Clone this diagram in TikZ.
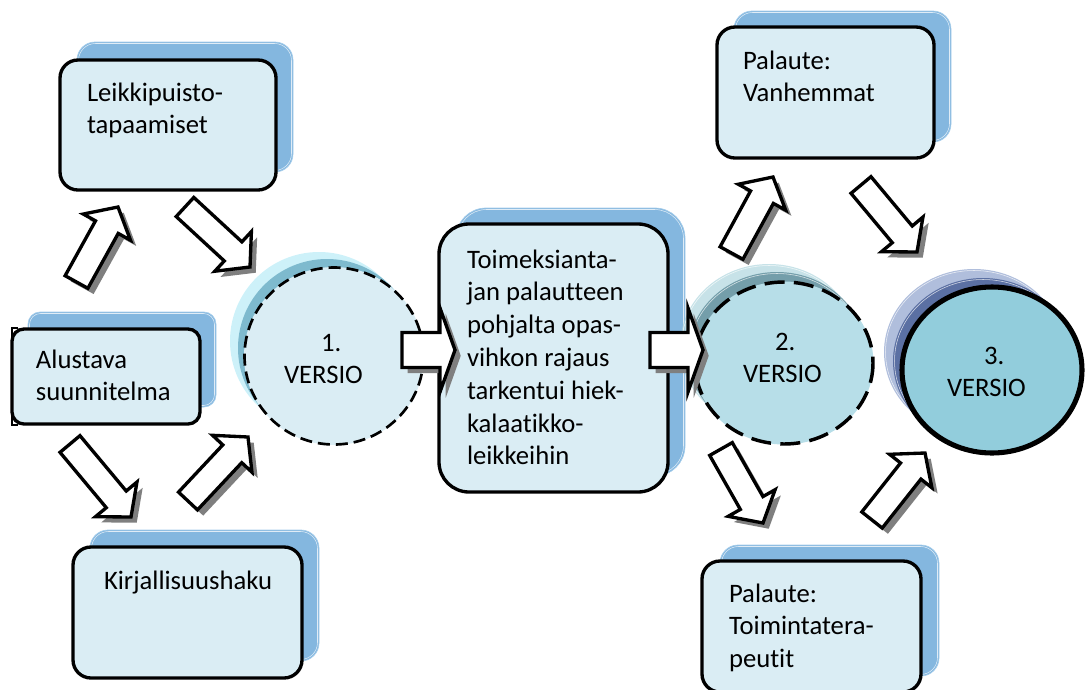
\documentclass[tikz,border=0pt]{standalone}
\usepackage{fontspec}
\setmainfont[Ligatures=NoCommon]{Carlito}
\usetikzlibrary{calc}
\definecolor{backblue}{HTML}{84B7DF}
\definecolor{backedge}{HTML}{A6CDEA}
\definecolor{frontblue}{HTML}{DAEDF4}
\definecolor{aLight}{HTML}{CDF1F9}
\definecolor{aMid}{HTML}{7EBACE}
\definecolor{bFill}{HTML}{B7DEE8}
\definecolor{bLight}{HTML}{A9D3DC}
\definecolor{bMid}{HTML}{5F8E9B}
\definecolor{cFill}{HTML}{92CDDC}
\definecolor{cLight}{HTML}{B0BEDC}
\definecolor{cMid}{HTML}{5B70A3}
\definecolor{arrowshade}{HTML}{7F7F7F}
\tikzset{
  plain/.style={inner sep=0pt,outer sep=0pt},
  label/.style={plain,anchor=north west,align=left,font=\fontsize{20}{24.6}\selectfont,text=black},
  linew/.style={line width=2.5pt},
  sheen/.style={draw=white,draw opacity=.75,line width=.4pt},
}
% name, x1,y1,x2,y2, radius, back plate offset right, back plate offset up (px)
\newcommand\cardbox[8]{%
  \node[plain,rounded corners=#6*.75pt,fill=backblue,draw=backedge,line width=.5pt,
    minimum width={(#4-#2)*.75pt},minimum height={(#5-#3)*.75pt}]
    (#1back) at ({(#2+#4)/2+#7},{(#3+#5)/2-#8}) {};
  \node[plain,rounded corners=(#6-1)*.75pt,sheen,
    minimum width={(#4-#2-3)*.75pt},minimum height={(#5-#3-3)*.75pt}]
    (#1sheen) at ({(#2+#4)/2+#7},{(#3+#5)/2-#8}) {};
  \node[plain,rounded corners=#6*.75pt,fill=frontblue,draw=black,linew,
    minimum width={(#4-#2)*.75pt},minimum height={(#5-#3)*.75pt}]
    (#1) at ({(#2+#4)/2},{(#3+#5)/2}) {};}
% block arrow: tail, tip (named), shaft half width, head half width, head length (px)
\newcommand\blockpath[5]{
  ($(#1)!#3*.75pt!90:(#2)$) --
  ($(#2)!#5*.75pt!(#1)!#3*.75pt!-90:(#1)$) --
  ($(#2)!#5*.75pt!(#1)!#4*.75pt!-90:(#1)$) --
  (#2) --
  ($(#2)!#5*.75pt!(#1)!#4*.75pt!90:(#1)$) --
  ($(#2)!#5*.75pt!(#1)!#3*.75pt!90:(#1)$) --
  ($(#1)!#3*.75pt!-90:(#2)$) -- cycle}
\newcommand\blockarrow[5]{%
  \fill[arrowshade,transform canvas={shift={(4.3pt,-4.3pt)}}] \blockpath{#1}{#2}{#3}{#4}{#5};
  \draw[fill=white,draw=black,linew,miter limit=10] \blockpath{#1}{#2}{#3}{#4}{#5};}
\begin{document}
\begin{tikzpicture}[x=.75pt,y=-.75pt]
\useasboundingbox (0,0) rectangle (1085,689);
\clip (0,0) rectangle (1085,689);
% Version 1
\fill[aLight] (319,341) ellipse [x radius=89,y radius=89];
\fill[aMid] (327,348) ellipse [x radius=89,y radius=89];
\fill[frontblue] (334,356) ellipse [x radius=90,y radius=89];
\draw[black,line width=2pt,dash pattern=on 9pt off 4.5pt] (334,356) ellipse [x radius=89.5,y radius=88.5];
\coordinate (v1) at (334,356);
% Cards
\draw[black,line width=.8pt] (18,328) -- (12,328) -- (12,425) -- (18,425);
\cardbox{leikki}{60}{60}{276}{190}{18}{17}{18}
\cardbox{alustava}{12}{329}{200}{424}{12}{16}{17}
\cardbox{kirja}{73}{547}{302}{678}{18}{17}{17}
\cardbox{toim}{439}{224}{668}{492}{30}{17}{16}
\cardbox{vanh}{717}{27}{934}{158}{18}{17}{16}
\cardbox{tera}{702}{561}{921}{692}{18}{18}{16}
% Version 2
\fill[bLight,opacity=.65] (769,346) ellipse [x radius=89,y radius=82];
\draw[sheen] (769,346) ellipse [x radius=87.5,y radius=80.5];
\fill[bMid,opacity=.8] (777,354) ellipse [x radius=89,y radius=82];
\draw[sheen] (777,354) ellipse [x radius=87.5,y radius=80.5];
\fill[bFill] (784,363) ellipse [x radius=89.5,y radius=81.5];
\draw[black,line width=2.6pt,dash pattern=on 15pt off 7pt] (784,363) ellipse [x radius=89,y radius=81];
\coordinate (v2) at (784,363);
% Version 3
\fill[cLight] (974,352) ellipse [x radius=90,y radius=83];
\draw[sheen] (974,352) ellipse [x radius=88.5,y radius=81.5];
\fill[cMid] (983,361) ellipse [x radius=90,y radius=83];
\draw[sheen] (983,361) ellipse [x radius=88.5,y radius=81.5];
\draw[fill=cFill,draw=black,line width=3.8pt] (992,370) ellipse [x radius=90,y radius=83];
\coordinate (v3) at (992,370);
% Arrow end points
\coordinate (a1s) at (76.5,282); \coordinate (a1e) at (118,207);
\coordinate (a2s) at (185,207);  \coordinate (a2e) at (250,267);
\coordinate (a3s) at (70,444);   \coordinate (a3e) at (131,517);
\coordinate (a4s) at (188,501);  \coordinate (a4e) at (248,437);
\coordinate (a5s) at (402,350);  \coordinate (a5e) at (455,350);
\coordinate (a6s) at (650,350);  \coordinate (a6e) at (703,350);
\coordinate (a7s) at (731.5,253);\coordinate (a7e) at (773,177);
\coordinate (a8s) at (861,185);  \coordinate (a8e) at (917,252);
\coordinate (a9s) at (721,449);  \coordinate (a9e) at (763,523);
\coordinate (a10s) at (872,520); \coordinate (a10e) at (925,453);
\blockarrow{a1s}{a1e}{13}{27}{23}
\blockarrow{a2s}{a2e}{13}{27}{23}
\blockarrow{a3s}{a3e}{13}{27}{23}
\blockarrow{a4s}{a4e}{13}{27}{23}
\blockarrow{a5s}{a5e}{17.5}{42}{15}
\blockarrow{a6s}{a6e}{17.5}{42}{15}
\blockarrow{a7s}{a7e}{13}{27}{23}
\blockarrow{a8s}{a8e}{13}{27}{23}
\blockarrow{a9s}{a9e}{13}{27}{23}
\blockarrow{a10s}{a10e}{13}{27}{23}
% Text (first baseline = node top + 20px)
\newcommand\firstline{\rule{0pt}{15pt}}
\node[label] (t1) at (87,81) {\firstline Leikkipuisto-\\tapaamiset};
\node[label] (t2) at (36,348) {\firstline Alustava\\suunnitelma};
\node[label] (t3) at (104,569) {\firstline Kirjallisuushaku};
\node[label] (t4) at (467,248) {\firstline Toimeksianta-\\jan palautteen\\pohjalta opas-\\vihkon rajaus\\tarkentui hiek-\\kalaatikko-\\leikkeihin};
\node[label] (t5) at (743,49) {\firstline Palaute:\\Vanhemmat};
\node[label] (t6) at (729,582) {\firstline Palaute:\\Toimintatera-\\peutit};
\node[label] (t7) at (284,331) {\firstline\hspace*{27.75pt}1.\\VERSIO};
\node[label] (t8) at (743,330) {\firstline\hspace*{24pt}2.\\VERSIO};
\node[label] (t9) at (947,344) {\firstline\hspace*{27.75pt}3.\\VERSIO};
\end{tikzpicture}
\end{document}
